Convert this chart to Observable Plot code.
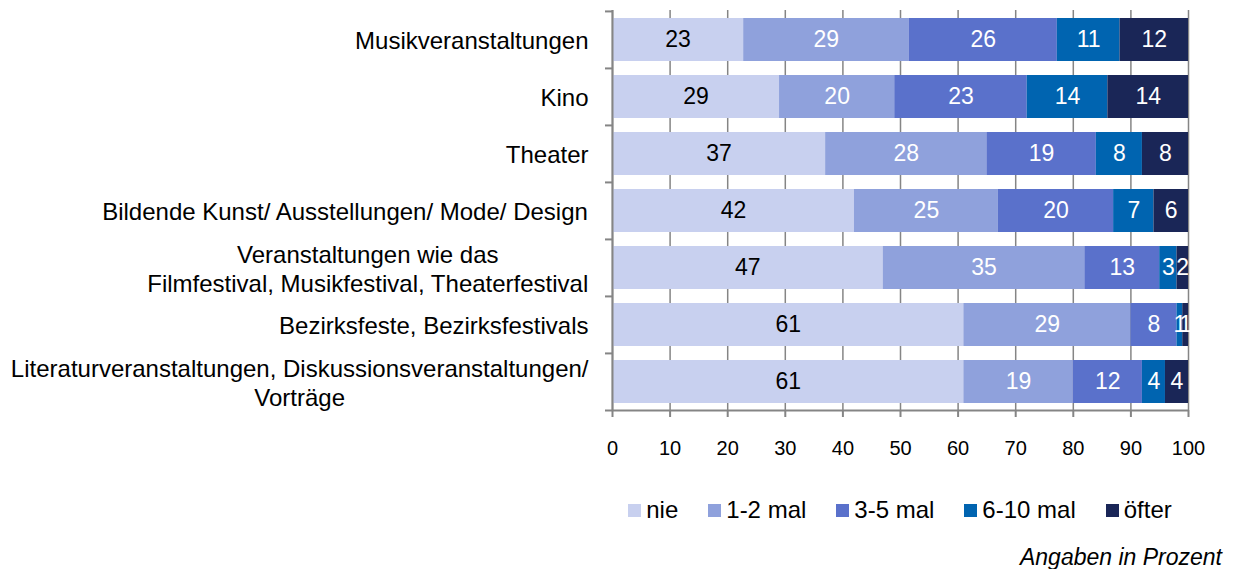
<!DOCTYPE html>
<html><head><meta charset="utf-8">
<script src="https://cdn.jsdelivr.net/npm/d3@7"></script>
<script src="https://cdn.jsdelivr.net/npm/@observablehq/plot@0.6"></script>
<style>
body{margin:0;background:#fff;font-family:"Liberation Sans",Arial,sans-serif;color:#000}
#wrap{position:relative;width:1234px;height:569px;overflow:hidden}
#legend{position:absolute;left:612px;width:576px;top:496px;display:flex;justify-content:center;gap:30px;font-size:24px;line-height:28px}
.item{display:flex;align-items:center;white-space:nowrap}
.sw{width:13px;height:13px;margin-right:5px;display:inline-block}
#caption{position:absolute;right:12px;top:544px;font-style:italic;font-size:23px;line-height:26px}
</style></head><body>
<div id="wrap"><div id="chart"></div><div id="legend"></div><div id="caption">Angaben in Prozent</div></div>
<script>
const categories = [
  "Musikveranstaltungen",
  "Kino",
  "Theater",
  "Bildende Kunst/ Ausstellungen/ Mode/ Design",
  "Veranstaltungen wie das\nFilmfestival, Musikfestival, Theaterfestival",
  "Bezirksfeste, Bezirksfestivals",
  "Literaturveranstaltungen, Diskussionsveranstaltungen/\nVorträge"
];
const series = ["nie", "1-2 mal", "3-5 mal", "6-10 mal", "öfter"];
const nie     = [23, 29, 37, 42, 47, 61, 61];
const mal1_2  = [29, 20, 28, 25, 35, 29, 19];
const mal3_5  = [26, 23, 19, 20, 13,  8, 12];
const mal6_10 = [11, 14,  8,  7,  3,  1,  4];
const oefter  = [12, 14,  8,  6,  2,  1,  4];
const colors  = ["#c8d0ef", "#8fa1dc", "#5a71cb", "#0064b0", "#1a2657"];
const xTicks  = [0, 10, 20, 30, 40, 50, 60, 70, 80, 90, 100];

const seriesValues = [nie, mal1_2, mal3_5, mal6_10, oefter];
const data = [];
categories.forEach((c, i) => {
  const total = d3.sum(seriesValues, s => s[i]);
  series.forEach((s, j) => {
    const v = seriesValues[j][i];
    data.push({cat: c, series: s, value: v, pct: v / total * 100});
  });
});

const W = 1234, H = 470, mt = 10, mb = 60, ml = 612, mr = 46;
const step = (H - mt - mb) / categories.length;
const font = '"Liberation Sans", Arial, sans-serif';
const labelSize = 24;
const ctx = document.createElement("canvas").getContext("2d");
ctx.font = `${labelSize}px ${font}`;
const axisColor = "#858585";

const labelMarks = categories.map(c => {
  const w = d3.max(c.split("\n"), l => ctx.measureText(l).width);
  return Plot.text([c], {
    y: d => d, text: d => d, frameAnchor: "left", textAnchor: "middle",
    dx: -24 - w / 2, fontSize: labelSize, lineHeight: 1.2, fill: "black"
  });
});

const chart = Plot.plot({
  width: W, height: H, marginTop: mt, marginBottom: mb, marginLeft: ml, marginRight: mr,
  style: {fontFamily: font, fontSize: "20px", color: "black", background: "transparent"},
  x: {domain: [0, 100], axis: null, label: null},
  y: {domain: categories, paddingInner: 0.25, paddingOuter: 0.125, axis: null, label: null},
  color: {domain: series, range: colors},
  marks: [
    Plot.gridX(xTicks, {stroke: axisColor, strokeOpacity: 1, strokeWidth: 1.5}),
    Plot.barX(data, Plot.stackX({y: "cat", x: "pct", fill: "series", z: "series"})),
    Plot.text(data, Plot.stackX({
      y: "cat", x: "pct", z: "series", text: "value", fontSize: 23,
      fill: d => d.series === "nie" ? "black" : "white"
    })),
    Plot.ruleX([0], {stroke: axisColor, strokeWidth: 2}),
    Plot.ruleY(categories, {y: d => d, dy: -step / 2, x1: 0, x2: 0, insetLeft: -7, stroke: axisColor, strokeWidth: 2}),
    Plot.ruleY([categories[categories.length - 1]], {y: d => d, dy: step / 2, insetLeft: -7, stroke: axisColor, strokeWidth: 2}),
    Plot.axisX(xTicks, {anchor: "bottom", label: null, tickSize: 7, tickPadding: 23, stroke: axisColor, strokeWidth: 2, fill: "black", fontSize: 20}),
    ...labelMarks
  ]
});
document.getElementById("chart").appendChild(chart);

const legend = document.getElementById("legend");
series.forEach((s, j) => {
  const item = document.createElement("div");
  item.className = "item";
  item.innerHTML = `<span class="sw" style="background:${colors[j]}"></span><span>${s}</span>`;
  legend.appendChild(item);
});
</script>
</body></html>
